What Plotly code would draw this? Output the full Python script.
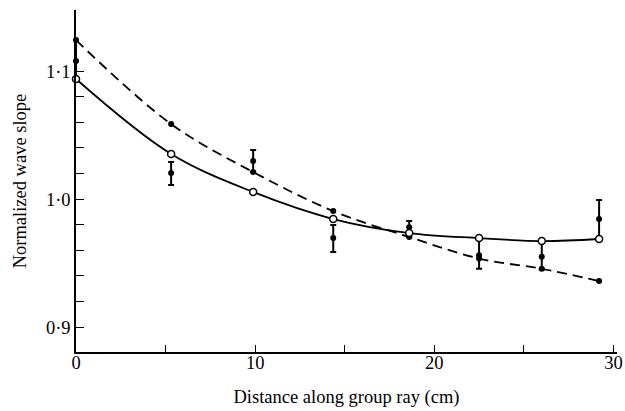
import plotly.graph_objects as go

# Model points (open circles, solid curve)
x_model = [0, 5.31, 9.89, 14.36, 18.6, 22.5, 26.0, 29.2]
y_solid = [1.0938, 1.0352, 1.0055, 0.9844, 0.9734, 0.9695, 0.9672, 0.9688]
# Model points (filled dots, dashed curve)
y_dashed = [1.1242, 1.0586, 1.0211, 0.9906, 0.9703, 0.9535, 0.9455, 0.9359]
# Measurements with error bars
y_meas = [1.1078, 1.0203, 1.0297, 0.9695, 0.9780, 0.9560, 0.9550, 0.9844]
err_plus = [0.0164, 0.0086, 0.0086, 0.0102, 0.0048, 0.0135, 0.0122, 0.0148]
err_minus = [0.0140, 0.0094, 0.0086, 0.0109, 0.0077, 0.0105, 0.0100, 0.0156]

x_ticks = [0, 5, 10, 15, 20, 25, 30]
x_ticktext = ["0", "", "10", "", "20", "", "30"]
y_ticks = [0.90, 0.92, 0.94, 0.96, 0.98, 1.00, 1.02, 1.04, 1.06, 1.08, 1.10]
y_ticktext = ["0·9", "", "", "", "", "1·0", "", "", "", "", "1·1"]

FONT = "Liberation Serif, DejaVu Serif, serif"
FS = 18.5

fig = go.Figure()

fig.add_trace(go.Scatter(
    x=x_model, y=y_dashed, mode="lines+markers",
    line=dict(color="black", width=1.8, dash="10px,6px", shape="spline", smoothing=1.0),
    marker=dict(color="black", size=6),
    cliponaxis=False, showlegend=False,
))
fig.add_trace(go.Scatter(
    x=x_model, y=y_meas, mode="markers",
    marker=dict(color="black", size=6),
    error_y=dict(type="data", array=err_plus, arrayminus=err_minus,
                 color="black", thickness=2, width=3),
    cliponaxis=False, showlegend=False,
))
fig.add_trace(go.Scatter(
    x=x_model, y=y_solid, mode="lines+markers",
    line=dict(color="black", width=1.8, shape="spline", smoothing=1.0),
    marker=dict(color="white", size=7, line=dict(color="black", width=1.5)),
    cliponaxis=False, showlegend=False,
))

fig.update_layout(
    width=625, height=411,
    margin=dict(l=76, r=8, t=10, b=59),
    paper_bgcolor="white", plot_bgcolor="white",
    font=dict(family=FONT, size=FS, color="black"),
)
fig.update_xaxes(
    range=[0, 30.2], showgrid=False, zeroline=False, automargin=False,
    showline=True, linecolor="black", linewidth=1.5,
    ticks="inside", ticklen=7, tickwidth=1.3, tickcolor="black",
    tickvals=x_ticks, ticktext=x_ticktext, ticklabeloverflow="allow",
    tickfont=dict(family=FONT, size=FS), ticklabelstandoff=-7,
    title=dict(text="Distance along group ray (cm)", font=dict(family=FONT, size=FS), standoff=18),
)
fig.update_yaxes(
    range=[0.8805, 1.1477], showgrid=False, zeroline=False, automargin=False,
    showline=True, linecolor="black", linewidth=1.5,
    ticks="inside", ticklen=8, tickwidth=1.3, tickcolor="black",
    tickvals=y_ticks, ticktext=y_ticktext,
    tickfont=dict(family=FONT, size=FS), ticklabelstandoff=0,
    title=dict(text="Normalized wave slope", font=dict(family=FONT, size=FS), standoff=14),
)

fig.write_html(
    "out.html",
    config={"displayModeBar": False},
    post_script=("document.documentElement.style.margin='0';document.body.style.margin='0';"
                 "document.documentElement.style.overflow='hidden';document.body.style.overflow='hidden';"),
)
